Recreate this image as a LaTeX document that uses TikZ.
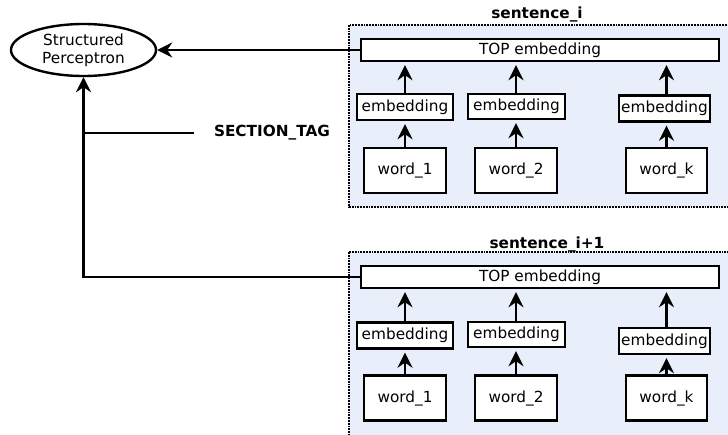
\documentclass[tikz,border=0pt]{standalone}
\usepackage{fontspec}
\setmainfont{DejaVu Sans}
\usetikzlibrary{arrows.meta,positioning,shapes.geometric}
\definecolor{sentbg}{RGB}{232,238,250}

\begin{document}
\begin{tikzpicture}[x=1pt,y=-1pt,>={Stealth[length=15pt,width=15pt,inset=5pt]},line width=2.4pt,font=\fontsize{15.3}{18}\selectfont]
\tikzstyle{blk}=[draw,fill=white,inner sep=0pt,align=center]
\tikzstyle{sent}=[draw,densely dotted,line width=1.8pt,fill=sentbg]
\tikzstyle{lbl}=[font=\fontsize{15.3}{18}\selectfont\bfseries]
\tikzstyle{up}=[->,shorten >=3pt]
\clip (0,0) rectangle (728,434);
% sentence i
\draw[sent] (349,25) rectangle (745,207);
\node[lbl] (s1) at (537,14) {sentence\_i};
\node[blk,minimum width=358pt,minimum height=22pt] (top1) at (540,50) {TOP embedding};
\node[blk,minimum width=96pt,minimum height=26pt] (e11) at (405,107) {embedding};
\node[blk,minimum width=97pt,minimum height=25pt] (e12) at (516.5,106.5) {embedding};
\node[blk,minimum width=91pt,minimum height=26pt] (e13) at (664.5,108.5) {embedding};
\node[blk,minimum width=82pt,minimum height=45pt] (w11) at (405,170.5) {word\_1};
\node[blk,minimum width=82pt,minimum height=45pt] (w12) at (516,170.5) {word\_2};
\node[blk,minimum width=81pt,minimum height=45pt] (w13) at (666.5,170.5) {word\_k};
% sentence i+1
\draw[sent] (349,252) rectangle (745,445);
\node[lbl] (s2) at (547,244) {sentence\_i+1};
\node[blk,minimum width=358pt,minimum height=22pt] (top2) at (540,277) {TOP embedding};
\node[blk,minimum width=96pt,minimum height=26pt] (e21) at (405,335.5) {embedding};
\node[blk,minimum width=97pt,minimum height=25pt] (e22) at (516.5,334.5) {embedding};
\node[blk,minimum width=91pt,minimum height=26pt] (e23) at (664.5,341) {embedding};
\node[blk,minimum width=82pt,minimum height=45pt] (w21) at (405,398) {word\_1};
\node[blk,minimum width=82pt,minimum height=45pt] (w22) at (516,398) {word\_2};
\node[blk,minimum width=81pt,minimum height=45pt] (w23) at (666.5,398) {word\_k};
% arrows inside the sentences
\foreach \r in {1,2}{
  \foreach \c in {1,2,3}{
    \draw[up] (w\r\c.north) -- (w\r\c.north |- e\r\c.south);
    \draw[up] (w\r\c.north |- e\r\c.north) -- (w\r\c.north |- top\r.south);
  }
}
% perceptron
\node[ellipse,draw,minimum width=145pt,minimum height=52pt,inner sep=0pt,align=center] (sp) at (83.5,50) {Structured\\Perceptron};
\node[lbl] (tag) at (272,133) {SECTION\_TAG};
\draw[->] (top1.west) -- (sp.east);
\draw[->] (top2.west) -| (sp.south);
\draw[shorten <=16pt] (tag.west) -- (tag.west -| sp.south);
\end{tikzpicture}
\end{document}
